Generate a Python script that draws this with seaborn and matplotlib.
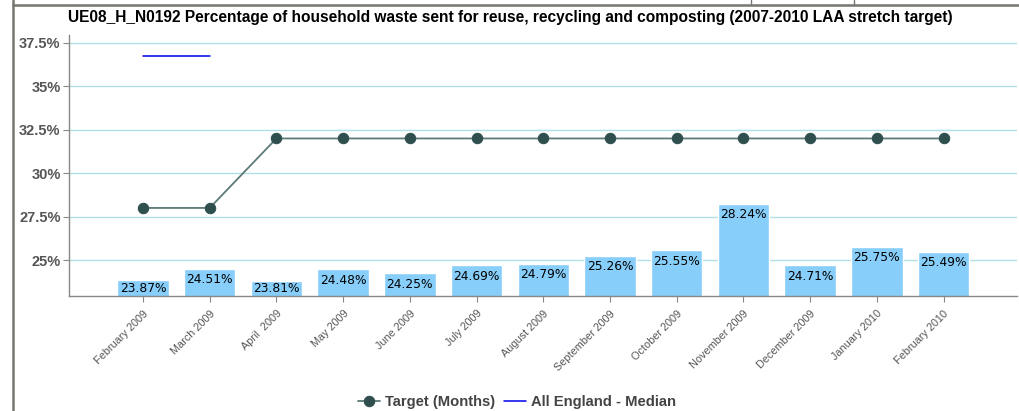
# Household waste recycling chart

import matplotlib
matplotlib.use('Agg')
import matplotlib.pyplot as plt
from matplotlib.lines import Line2D
import seaborn as sns
import pandas as pd

# Data
months = ['February 2009', 'March 2009', 'April  2009', 'May 2009', 'June 2009',
          'July 2009', 'August 2009', 'September 2009', 'October 2009',
          'November 2009', 'December 2009', 'January 2010', 'February 2010']
actual = [23.87, 24.51, 23.81, 24.48, 24.25, 24.69, 24.79,
          25.26, 25.55, 28.24, 24.71, 25.75, 25.49]
target = [28, 28, 32, 32, 32, 32, 32, 32, 32, 32, 32, 32, 32]
median_pos = [0, 1]
median = [36.75, 36.75]
y_ticks = [25, 27.5, 30, 32.5, 35, 37.5]
y_tick_labels = ['25%', '27.5%', '30%', '32.5%', '35%', '37.5%']

y_bottom = 22.93
y_top = 37.96

chart_df = pd.DataFrame({'month': months,
                         'pos': range(len(months)),
                         'actual': actual,
                         'target': target})

sns.set_theme(style = 'white')
plt.rcParams['font.family'] = ['Liberation Sans', 'DejaVu Sans']

fig = plt.figure(figsize = (10.2, 4.11), dpi = 100)
ax = fig.add_axes([0.0676, 0.2798, 0.9294, 0.6352])

# Bars
sns.barplot(ax = ax,
            data = chart_df,
            x = 'pos',
            y = 'actual',
            color = '#87CEFA',
            saturation = 1,
            width = 0.77,
            native_scale = True,
            zorder = 2)

# Value labels sit just inside the top of each bar, kept above the axis
for x, v in zip(chart_df['pos'], chart_df['actual']):
    label_y = max(v - 0.63, y_bottom + 0.46)
    ax.text(x, label_y, '{:.2f}%'.format(v), ha = 'center', va = 'center',
            fontsize = 8.8, color = 'black', family = 'DejaVu Sans', zorder = 4)

# Target line
sns.lineplot(ax = ax,
             data = chart_df,
             x = 'pos',
             y = 'target',
             color = '#5C7A78',
             linewidth = 1.3,
             marker = 'o',
             markersize = 7.5,
             markerfacecolor = '#2F4F4F',
             markeredgecolor = '#2F4F4F',
             label = 'Target (Months)',
             zorder = 3)

# All England median
sns.lineplot(ax = ax,
             x = median_pos,
             y = median,
             color = '#0000EE',
             linewidth = 1.1,
             label = 'All England - Median',
             zorder = 3)

ax.set_xlim(-1.11, 13.1)
ax.set_ylim(y_bottom, y_top)
ax.set_yticks(y_ticks)
ax.set_yticklabels(y_tick_labels, fontsize = 10.5, fontweight = 'bold', color = '#555555')
ax.set_xticks(chart_df['pos'])
ax.set_xticklabels(months, rotation = 45, ha = 'right', rotation_mode = 'anchor',
                   fontsize = 7.8, color = '#555555')
ax.set(xlabel = '', ylabel = '')

ax.yaxis.grid(True, color = '#B0E0E6', linewidth = 1, zorder = 0)
ax.set_axisbelow(True)
for side in ['top', 'right']:
    ax.spines[side].set_visible(False)
for side in ['left', 'bottom']:
    ax.spines[side].set_color('#888888')
    ax.spines[side].set_linewidth(1)
ax.tick_params(axis = 'both', which = 'both', length = 4, width = 0.8,
               color = '#888888', bottom = True, left = True, pad = 2)
ax.tick_params(axis = 'x', pad = 5)

fig.text(0.5, 0.958, 'UE08_H_N0192 Percentage of household waste sent for reuse, recycling and composting (2007-2010 LAA stretch target)',
         ha = 'center', va = 'center', fontsize = 11.2, fontweight = 'bold', color = 'black')

leg = ax.legend(loc = 'center', bbox_to_anchor = (0.4726, -0.405),
                ncol = 2, frameon = False, handlelength = 1.5,
                columnspacing = 0.6, handletextpad = 0.35,
                prop = {'weight': 'bold', 'size': 10.6})
for t in leg.get_texts():
    t.set_color('#444444')

# Page frame lines
frame_col = '#77776F'
fig.add_artist(Line2D([13 / 1020, 13 / 1020], [0, 1], color = frame_col, linewidth = 1.8))
fig.add_artist(Line2D([13 / 1020, 1], [1 - 5 / 411, 1 - 5 / 411], color = frame_col, linewidth = 1.8))
for xp in [751, 854]:
    fig.add_artist(Line2D([xp / 1020, xp / 1020], [1 - 5 / 411, 1], color = frame_col, linewidth = 1))

fig.savefig('out.png', dpi = 100)
plt.close()
